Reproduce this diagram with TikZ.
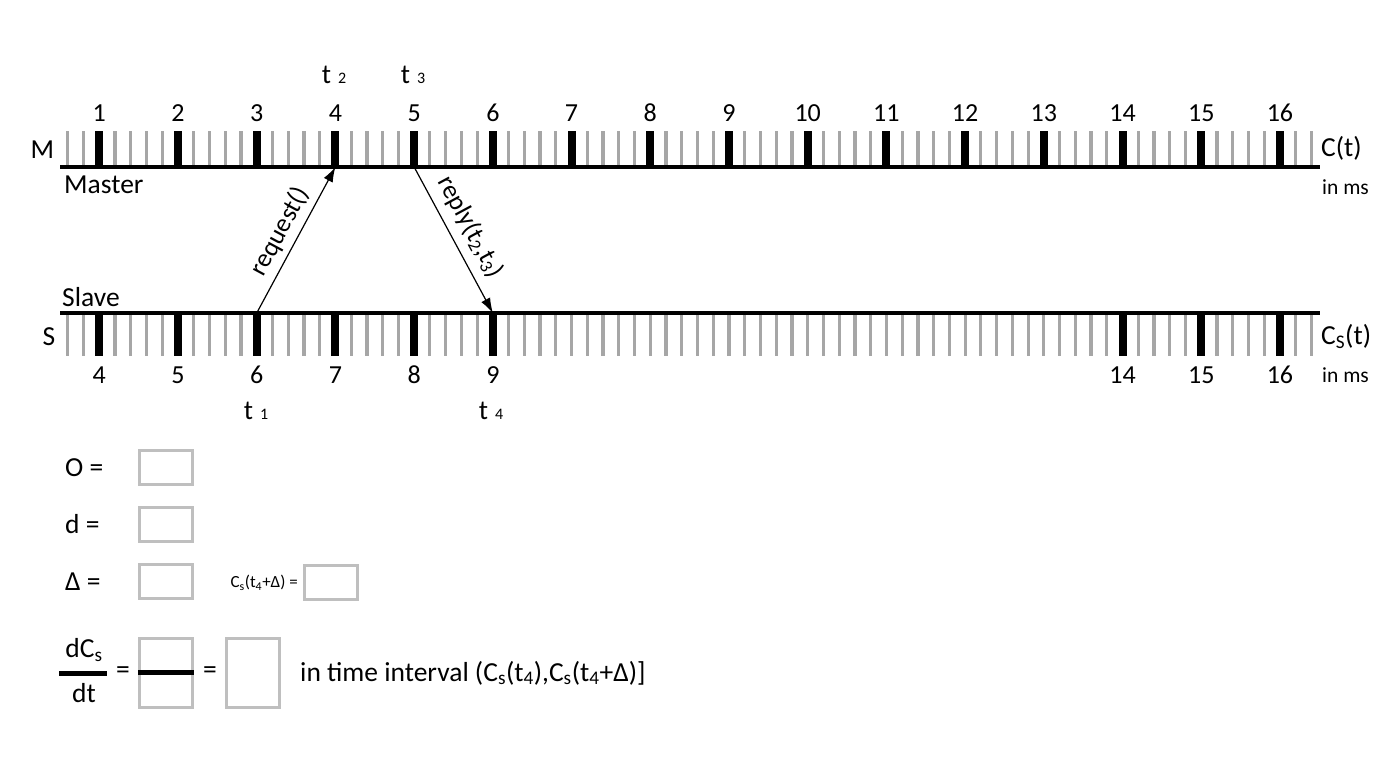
\documentclass[tikz,border=0pt]{standalone}
\usepackage{fontspec}
\setmainfont{Carlito}
\usetikzlibrary{arrows.meta}
\definecolor{tickgrey}{RGB}{166,166,166}
\definecolor{boxgrey}{RGB}{191,191,191}
\newcommand{\sizept}[1]{\fontsize{#1}{#1}\selectfont}
\begin{document}
\begin{tikzpicture}[x=1pt,y=-1pt,
    lbl/.style={font=\sizept{27.5}, inner sep=0pt},
    num/.style={font=\sizept{26}, inner sep=0pt},
    unitlbl/.style={font=\sizept{21.5}, inner sep=0pt},
    small/.style={font=\sizept{17}, inner sep=0pt},
    minor/.style={draw=tickgrey, line width=3.2pt},
    major/.style={draw=black, line width=8pt},
    axis/.style={line width=3.3pt},
    msg/.style={line width=1.2pt, -{Latex[length=15pt,width=10pt]}},
    ansbox/.style={draw=boxgrey, line width=3pt, minimum width=53pt, minimum height=34pt, inner sep=0pt}]
        \useasboundingbox (0,0) rectangle (1378,766);
        % tick positions
        \foreach \v in {1,...,16} {
            \coordinate (m\v) at ({20.6+78.71*\v},167);
            \coordinate (s\v) at ({20.6+78.71*\v},313);
        }
        % master clock
        \foreach \i in {3,...,82}
            \draw[minor] ({20.6+15.742*\i},131) -- ++(0,36);
        \foreach \v in {1,...,16} {
            \draw[major] (m\v) -- ++(0,-36);
            \node[num] (mn\v) at ([yshift=54pt]m\v) {\v};
        }
        \draw[axis] (60,167) -- (1320,167);
        % slave clock
        \foreach \i in {3,...,82}
            \draw[minor] ({20.6+15.742*\i},313) -- ++(0,43);
        \foreach \p/\v in {1/4,2/5,3/6,4/7,5/8,6/9,14/14,15/15,16/16} {
            \draw[major] (s\p) -- ++(0,43);
            \node[num] (sn\p) at ([yshift=-62pt]s\p) {\v};
        }
        \draw[axis] (60,313) -- (1320,313);
        % labels
        \node[lbl] (mlbl) at (42.5,150) {M};
        \node[lbl] (slbl) at (49,336.7) {S};
        \node[lbl, anchor=west] (master) at (64,185) {Master};
        \node[lbl, anchor=west] (slave) at (62,296.7) {Slave};
        \node[lbl, anchor=west] (ct) at (1321,148) {C(t)};
        \node[unitlbl, anchor=west] (mms) at (1322,186.7) {in ms};
        \node[lbl, anchor=west] (cst) at (1321,336.7) {C\textsubscript{S}(t)};
        \node[unitlbl, anchor=west] (sms) at (1322,375) {in ms};
        \node[lbl] (t2) at (334,75) {t\hspace{7pt}{\sizept{16}2}};
        \node[lbl] (t3) at (413,75) {t\hspace{7pt}{\sizept{16}3}};
        \node[lbl] (t1) at (256,411) {t\hspace{7pt}{\sizept{16}1}};
        \node[lbl] (t4) at (491,411) {t\hspace{7pt}{\sizept{16}4}};
        % messages
        \draw[msg] (s3) -- node[num, midway, sloped, above=6pt] {request()} (m4);
        \draw[msg] (m5) -- node[num, pos=0.48, sloped, above=9pt] {reply(t\textsubscript{2},t\textsubscript{3})} (s6);
        % answers
        \node[lbl, anchor=west] (olbl) at (65,467.3) {O =};
        \node[ansbox] (obox) at (165.85,467.3) {};
        \node[lbl, anchor=west] (dlbl) at (65,524.5) {d =};
        \node[ansbox] (dbox) at (165.85,524.5) {};
        \node[lbl, anchor=west] (deltalbl) at (65,581.9) {Δ =};
        \node[ansbox] (deltabox) at (165.85,581.9) {};
        \node[small, anchor=east] (cslbl) at (298,583) {C\textsubscript{s}(t\textsubscript{4}+Δ) =};
        \node[ansbox] (csbox) at (331.3,582) {};
        % rate
        \node[lbl] (dcs) at (84,650) {dC\textsubscript{s}};
        \node[lbl] (dt) at (84,692.7) {dt};
        \draw[line width=5pt] (59,673) -- (107,673);
        \node[lbl] (eq1) at (123,673) {=};
        \node[ansbox, minimum height=69pt] (ratebox) at (165.85,672.9) {};
        \draw[line width=5pt] (ratebox.west) -- (ratebox.east);
        \node[lbl] (eq2) at (210,673) {=};
        \node[ansbox, minimum height=69pt] (resbox) at (252.85,672.9) {};
        \node[lbl, anchor=west] (interval) at (300,673) {in time interval (C\textsubscript{s}(t\textsubscript{4}),C\textsubscript{s}(t\textsubscript{4}+Δ)]};
    \end{tikzpicture}
\end{document}
